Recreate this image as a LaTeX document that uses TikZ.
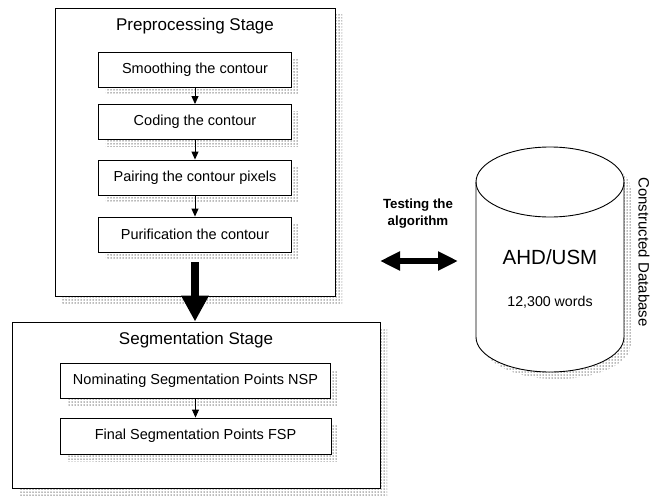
\documentclass[tikz,border=0pt]{standalone}
\usepackage{fontspec}
\setmainfont{Liberation Sans}
\usetikzlibrary{arrows.meta,patterns.meta,shadows}

\begin{document}
\begin{tikzpicture}[x=1pt,y=-1pt,
  dotshadow/.style={general shadow={shadow xshift=7pt,shadow yshift=-7pt,pattern={Dots[radius=0.75pt,distance=3pt]},pattern color=black!55}},
  stage/.style={draw,fill=white,line width=0.9pt,dotshadow,inner sep=0pt},
  stepbox/.style={draw,fill=white,line width=0.9pt,dotshadow,minimum height=35pt,inner sep=0pt,font=\fontsize{14.5}{17}\selectfont},
  title/.style={font=\fontsize{17}{20}\selectfont},
  thin arrow/.style={-{Triangle[length=8pt,width=7pt]},line width=0.9pt},
  big arrow/.style={-{Triangle[length=26pt,width=26pt]},line width=8pt},
  both arrow/.style={{Triangle[length=20pt,width=18pt]}-{Triangle[length=20pt,width=18pt]},line width=6.5pt},
  cyl/.style={line width=0.9pt}]
\useasboundingbox (0,0) rectangle (652,495);
% preprocessing stage
\node[stage,minimum width=280pt,minimum height=288pt] (pre) at (195,152) {};
\node[title] (pretitle) at (195,26) {Preprocessing Stage};
\node[stepbox,minimum width=193pt] (smooth) at (195,69.5) {Smoothing the contour};
\node[stepbox,minimum width=193pt] (code) at (195,122) {Coding the contour};
\node[stepbox,minimum width=193pt] (pair) at (195,177.5) {Pairing the contour pixels};
\node[stepbox,minimum width=193pt] (purify) at (195,234.5) {Purification the contour};
\draw[thin arrow] (smooth) -- (code);
\draw[thin arrow] (code) -- (pair);
\draw[thin arrow] (pair) -- (purify);
% segmentation stage
\node[stage,minimum width=368pt,minimum height=166pt] (seg) at (196,405) {};
\node[title] (segtitle) at (196,340) {Segmentation Stage};
\node[stepbox,minimum width=270pt] (nsp) at (195.5,380.5) {Nominating Segmentation Points NSP};
\node[stepbox,minimum width=271pt,minimum height=36pt] (fsp) at (195.5,436) {Final Segmentation Points FSP};
\draw[thin arrow] (nsp) -- (fsp);
\draw[big arrow] ([yshift=-10pt]purify.south) -- (purify.south |- seg.north);
% database
\begin{scope}[shift={(7,7)}]
\fill[pattern={Dots[radius=0.75pt,distance=3pt]},pattern color=black!55] (476,182) -- (476,337) arc[start angle=180,end angle=0,x radius=74,y radius=35] -- (624,182) arc[start angle=0,end angle=-180,x radius=74,y radius=35] -- cycle;
\end{scope}
\draw[cyl,fill=white] (476,182) -- (476,337) arc[start angle=180,end angle=0,x radius=74,y radius=35] -- (624,182) arc[start angle=0,end angle=-180,x radius=74,y radius=35] -- cycle;
\draw[cyl] (624,182) arc[start angle=0,end angle=180,x radius=74,y radius=35];
\node[font=\fontsize{20.5}{24}\selectfont] (ahd) at (550,257) {AHD/USM};
\node[font=\fontsize{14.2}{17}\selectfont] (words) at (550,302) {12,300 words};
\node[rotate=-90,font=\fontsize{15}{18}\selectfont] (dblabel) at (644,252) {Constructed Database};
% testing
\coordinate (tl) at (380,261);
\coordinate (tr) at (458,261);
\draw[both arrow] (tl) -- (tr);
\node[align=center,font=\bfseries\fontsize{13.3}{17}\selectfont] (test) at (418,214) {Testing the\\algorithm};
\end{tikzpicture}
\end{document}
